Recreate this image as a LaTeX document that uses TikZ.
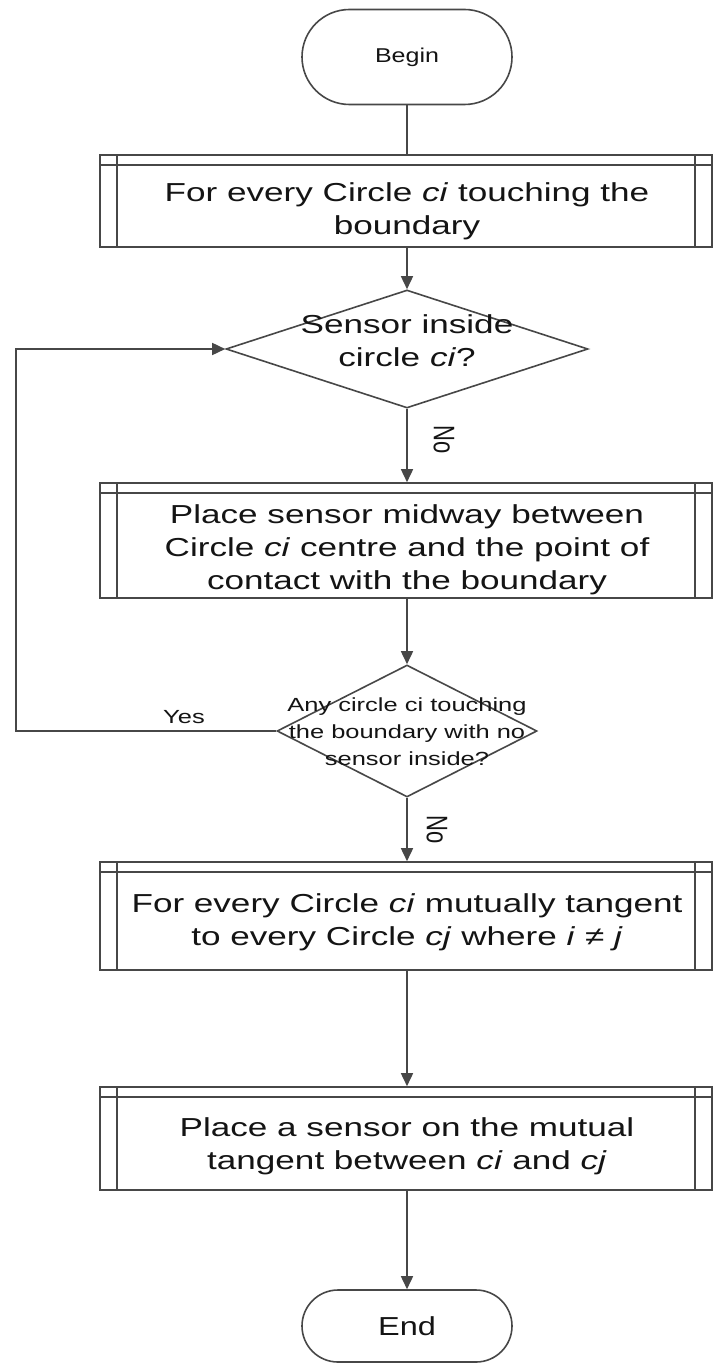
\documentclass[tikz,border=0pt]{standalone}
\usepackage{fontspec}
\setmainfont{Liberation Sans}
\usepackage{graphicx}
\usetikzlibrary{arrows.meta,shapes.geometric,shapes.misc}

\definecolor{lc}{gray}{0.28}
\definecolor{tc}{gray}{0.08}

% text blocks, set a little wider than the font's natural width
\newcommand{\boxtext}[1]{\fontsize{26pt}{33pt}\selectfont\scalebox{1.35}[1]{\begin{tabular}{@{}c@{}}#1\end{tabular}}}
\newcommand{\smalltext}[1]{\fontsize{19pt}{27pt}\selectfont\scalebox{1.34}[1]{\begin{tabular}{@{}c@{}}#1\end{tabular}}}
\newcommand{\termtext}[2]{\fontsize{#1}{#1}\selectfont\scalebox{1.25}[1]{#2}}

% the extra inner lines of a predefined-process box
\newcommand{\predeflines}[1]{%
  \draw[inner] ([xshift=18pt]#1.north west) -- ([xshift=18pt]#1.south west);
  \draw[inner] ([xshift=-18pt]#1.north east) -- ([xshift=-18pt]#1.south east);
  \draw[inner] ([yshift=-11pt]#1.north west) -- ([yshift=-11pt]#1.north east);}

\tikzset{
  conn/.style={draw=lc, line width=1.6pt},
  arr/.style={conn, -{Triangle[length=13pt,width=12pt]}},
  inner/.style={draw=lc, line width=1.6pt},
  procbox/.style={draw=lc, line width=1.6pt, rectangle, minimum width=612pt, inner sep=0pt},
  term/.style={draw=lc, line width=1.6pt, rounded rectangle, minimum width=210pt,
               inner sep=0pt, text=tc},
  dia/.style={draw=lc, line width=1.6pt, diamond, inner sep=0pt},
  txt/.style={inner sep=0pt, text=tc},
  lbl/.style={inner sep=0pt, text=tc}
}

\begin{document}
\begin{tikzpicture}[x=1pt,y=-1pt]
\useasboundingbox (0,0) rectangle (719,1367);
\fill[white] (0,0) rectangle (719,1367);

% start and end
\node[term, minimum height=95pt] (begin) at (407,57) {\termtext{20pt}{Begin}};
\node[term, minimum height=72pt] (end) at (407,1326) {\termtext{26pt}{End}};

% process boxes
\node[procbox, minimum height=92pt] (b1) at (406,201) {};
\predeflines{b1}
\node[txt] (b1t) at (407,211) {\boxtext{For every Circle \textit{ci} touching the\\boundary}};

\node[procbox, minimum height=115pt] (b2) at (406,540.5) {};
\predeflines{b2}
\node[txt] (b2t) at (407,550) {\boxtext{Place sensor midway between\\Circle \textit{ci} centre and the point of\\contact with the boundary}};

\node[procbox, minimum height=108pt] (b3) at (406,916) {};
\predeflines{b3}
\node[txt] (b3t) at (407,922) {\boxtext{For every Circle \textit{ci} mutually tangent\\to every Circle \textit{cj} where \textit{i} ≠ \textit{j}}};

\node[procbox, minimum height=103pt] (b4) at (406,1138.5) {};
\predeflines{b4}
\node[txt] (b4t) at (407,1146) {\boxtext{Place a sensor on the mutual\\tangent between \textit{ci} and \textit{cj}}};

% decisions
\node[dia, minimum width=362pt, minimum height=118pt] (d1) at (407,349) {};
\node[txt] (d1t) at (407,343) {\boxtext{Sensor inside\\circle \textit{ci}?}};
\node[dia, minimum width=260pt, minimum height=132pt] (d2) at (407,731) {};
\node[txt] (d2t) at (407,733) {\smalltext{Any circle ci touching\\the boundary with no\\sensor inside?}};

% loop-back column
\coordinate (loopx) at (16,0);

% connectors
\draw[conn] (begin.south) -- (begin.south |- b1.north);
\draw[arr] (begin.south |- b1.south) -- (d1.north);
\draw[arr] (d1.south) -- (d1.south |- b2.north);
\draw[arr] (d1.south |- b2.south) -- (d2.north);
\draw[arr] (d2.south) -- (d2.south |- b3.north);
\draw[arr] (d2.south |- b3.south) -- (d2.south |- b4.north);
\draw[arr] (d2.south |- b4.south) -- (end.north);
\draw[arr] (d2.west) -- (d2.west -| loopx) |- (d1.west);

% branch labels
\node[lbl] (no1) at (444,440) {\fontsize{22pt}{22pt}\selectfont\scalebox{1.35}[1]{\rotatebox{-90}{No}}};
\node[lbl] (no2) at (437,830) {\fontsize{22pt}{22pt}\selectfont\scalebox{1.35}[1]{\rotatebox{-90}{No}}};
\node[lbl] (yes) at (184,717) {\fontsize{19pt}{19pt}\selectfont\scalebox{1.34}[1]{Yes}};
\end{tikzpicture}
\end{document}
